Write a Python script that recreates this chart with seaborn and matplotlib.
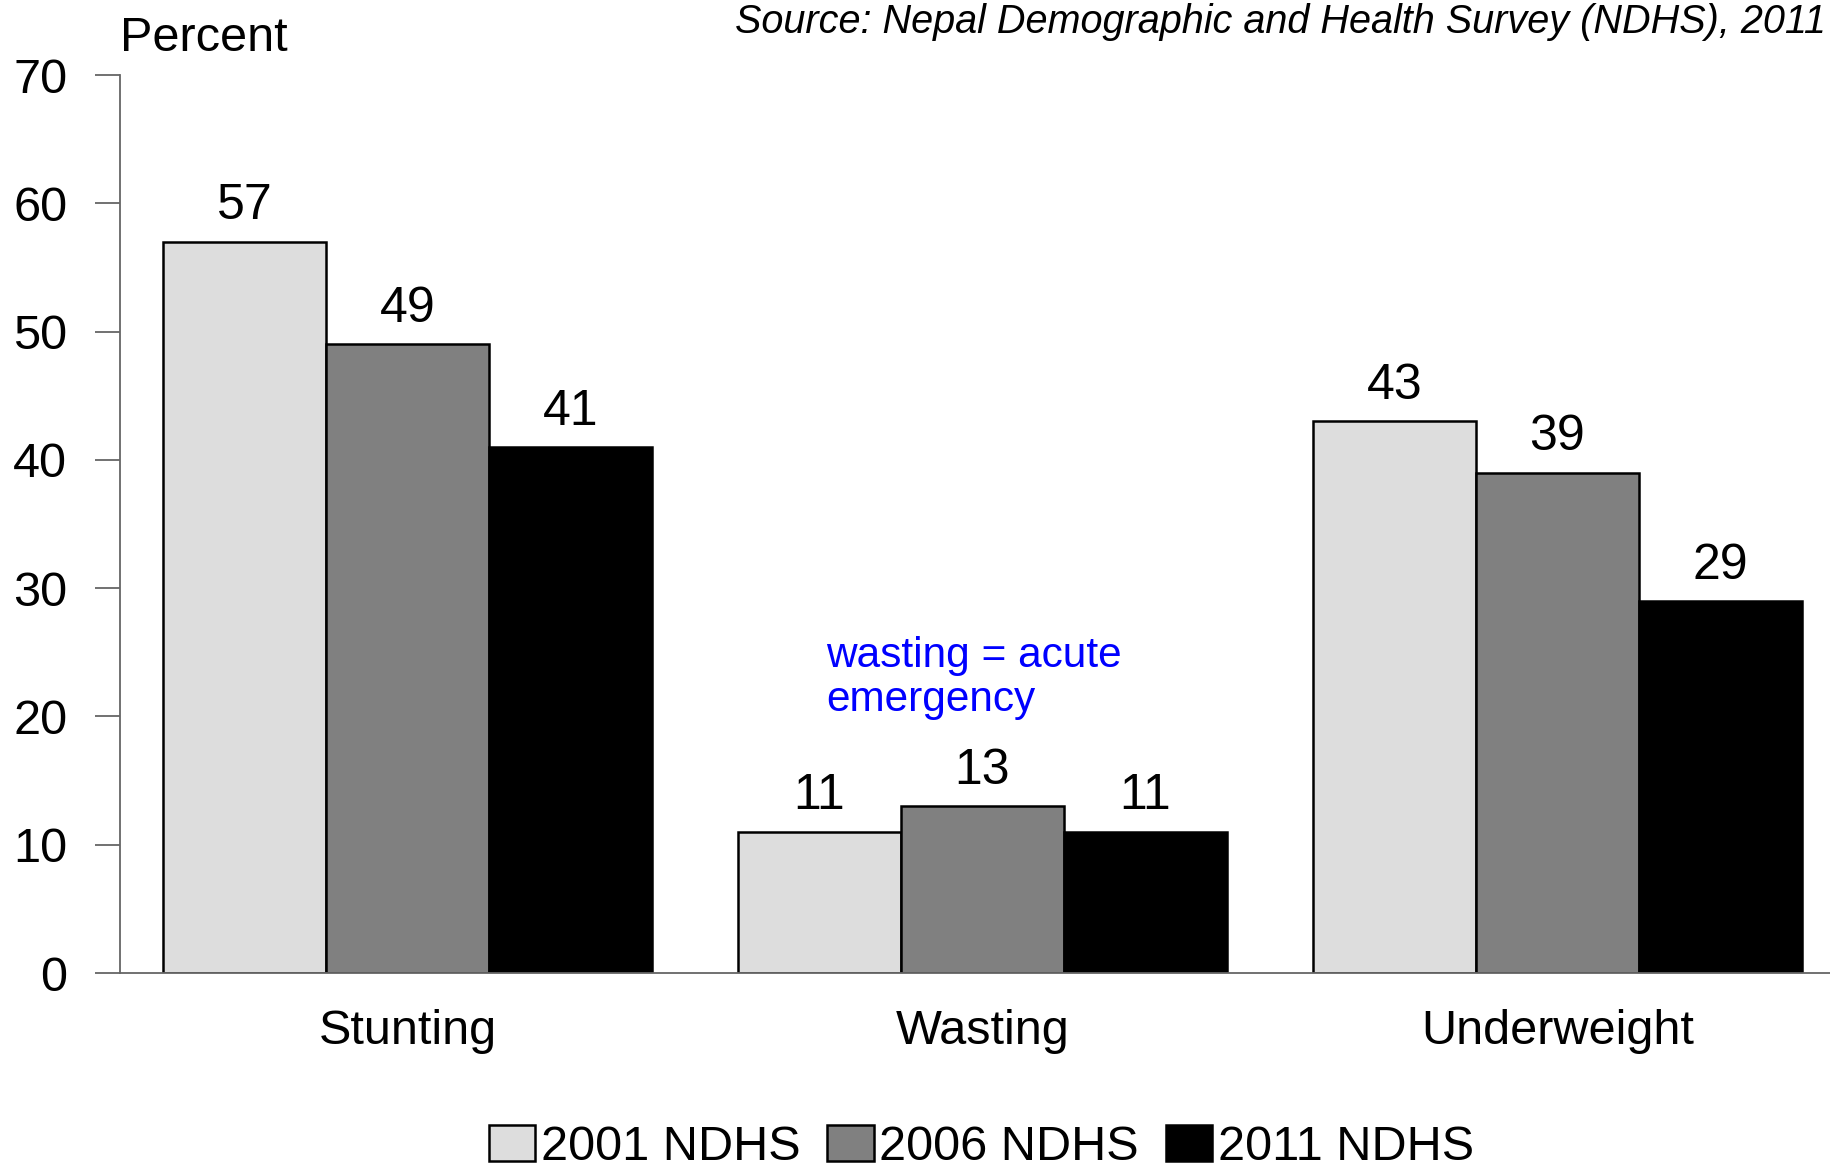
import numpy as np
import pandas as pd
import matplotlib
matplotlib.use("Agg")
import matplotlib.pyplot as plt
import seaborn as sns
from matplotlib.patches import Patch

# data
categories = ["Stunting", "Wasting", "Underweight"]
surveys = ["2001 NDHS", "2006 NDHS", "2011 NDHS"]
v2001 = [57, 11, 43]
v2006 = [49, 13, 39]
v2011 = [41, 11, 29]
colors = ["#DDDDDD", "#808080", "#000000"]

df = pd.DataFrame({
    "cat": categories * 3,
    "survey": [surveys[0]] * 3 + [surveys[1]] * 3 + [surveys[2]] * 3,
    "val": v2001 + v2006 + v2011,
})

sns.set_style("white")
plt.rcParams["font.family"] = ["Liberation Sans", "DejaVu Sans"]
plt.rcParams["text.color"] = "black"
plt.rcParams["xtick.color"] = "black"
plt.rcParams["ytick.color"] = "black"

fig = plt.figure(figsize=(18.31, 11.67), dpi=100)
ax = fig.add_axes([0.0655, 0.1662, 0.942, 0.7695])

sns.barplot(data=df, x="cat", y="val", hue="survey", palette=colors,
            width=0.85, edgecolor="black", linewidth=1.8, ax=ax, legend=False)

for c in ax.containers:
    ax.bar_label(c, fmt="%d", padding=9, fontsize=36)

ax.set_xlim(-0.5, 2.5)
ax.set_ylim(0, 70)
ax.set_yticks(range(0, 71, 10))
ax.set_xlabel("")
ax.set_ylabel("")
for s in ["top", "right"]:
    ax.spines[s].set_visible(False)
for s in ["left", "bottom"]:
    ax.spines[s].set_color("#666666")
    ax.spines[s].set_linewidth(1.3)
ax.tick_params(axis="y", direction="out", length=18, width=1.3, color="#666666",
               labelcolor="black", labelsize=35, pad=20, left=True)
ax.tick_params(axis="x", length=0, labelcolor="black", labelsize=35, pad=26)

fig.text(0.0655, 0.967, "Percent", fontsize=35, va="center", ha="left")
fig.text(0.997, 0.981, "Source: Nepal Demographic and Health Survey (NDHS), 2011",
         fontsize=28.5, style="italic", va="center", ha="right")

ax.text(0.728, 23.0, "wasting = acute\nemergency", color="#0000FF",
        fontsize=30.5, ha="left", va="center", linespacing=1.15)

handles = [Patch(facecolor=c, edgecolor="black", linewidth=1.8) for c in colors]
fig.legend(handles, surveys, loc="center", bbox_to_anchor=(0.536, 0.017),
           ncol=3, frameon=False, fontsize=35, handlelength=0.95, handleheight=0.75,
           handletextpad=0.12, columnspacing=0.55, borderpad=0)

fig.savefig("out.png", dpi=100)
